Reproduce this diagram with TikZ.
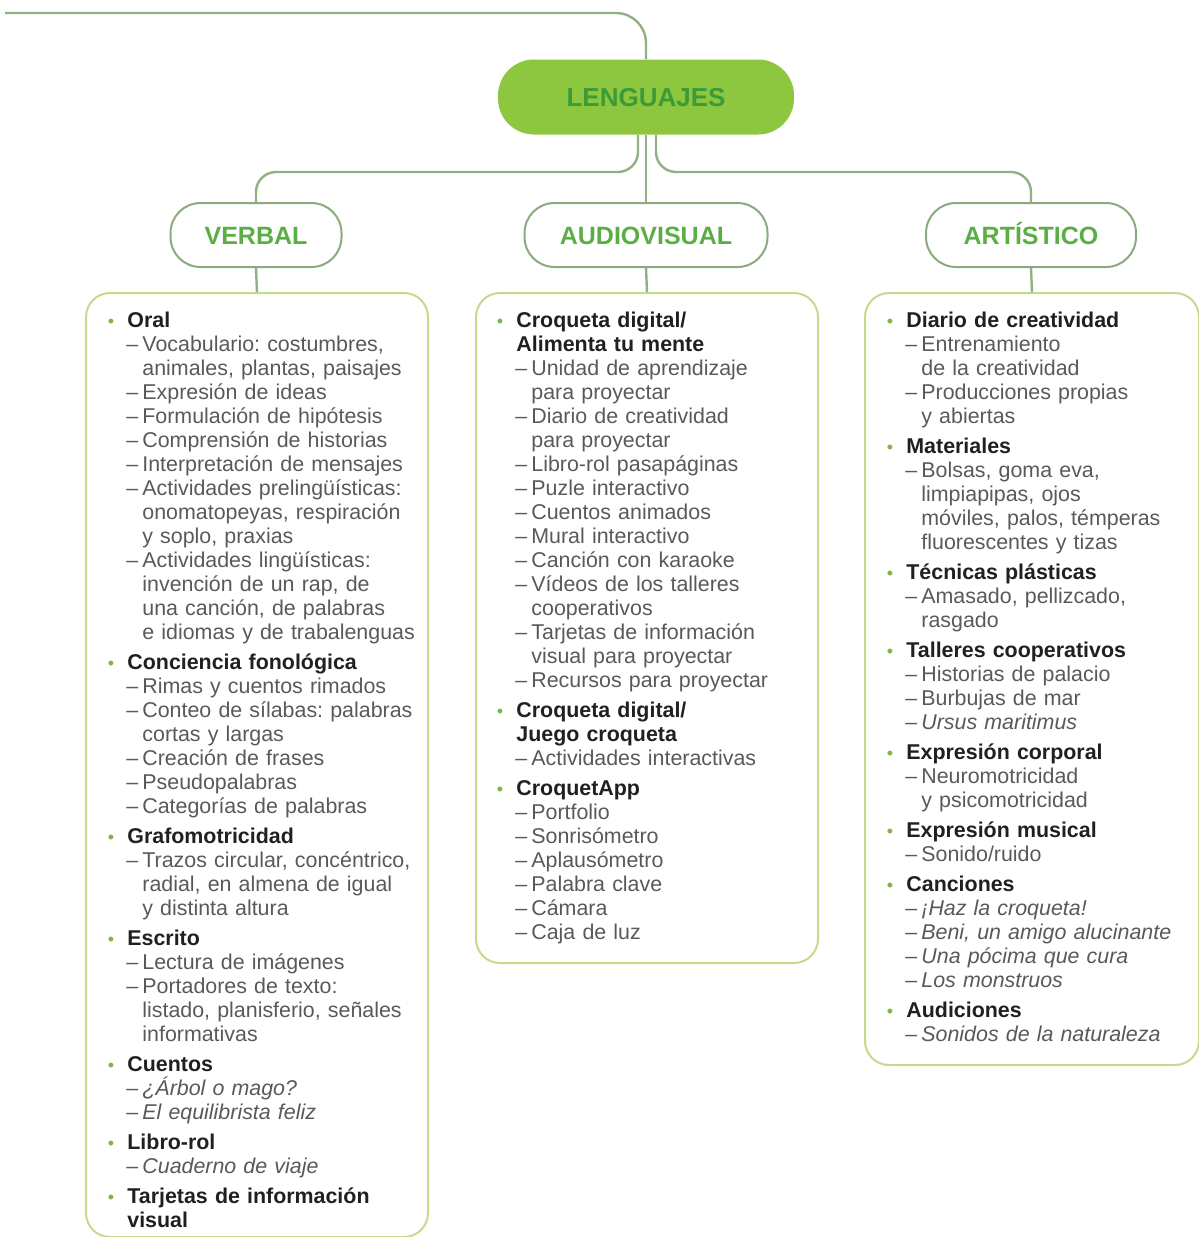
\documentclass[tikz,border=0pt]{standalone}
\usepackage{fontspec}
\setmainfont{Liberation Sans}
\usetikzlibrary{positioning}

\definecolor{hubfill}{HTML}{8DC63F}
\definecolor{hubtext}{HTML}{3C9A38}
\definecolor{catline}{HTML}{8BAA80}
\definecolor{cattext}{HTML}{5BAE44}
\definecolor{linegreen}{HTML}{92B084}
\definecolor{boxline}{HTML}{C3DC8C}
\definecolor{bulgreen}{HTML}{7DB548}
\definecolor{itemgray}{HTML}{58595B}
\definecolor{headgray}{HTML}{231F20}

% heading with green bullet, item with dash
\newcommand{\hd}[1]{\par\vspace{3pt}\noindent\hangindent=11pt\hangafter=1%
  \makebox[11pt][l]{\hspace{1.2pt}\textcolor{bulgreen}{\small\textbullet}}%
  \strut{\bfseries\color{headgray}#1}\par}
\newcommand{\itm}[1]{\noindent\hangindent=18.5pt\hangafter=1%
  \hspace*{10.5pt}\makebox[8pt][l]{–}#1\par}
\newcommand{\nl}{\newline}

\begin{document}
\begin{tikzpicture}[x=0.5pt, y=-0.5pt,
  hub/.style={rectangle, rounded corners=18pt, fill=hubfill, minimum width=148pt,
    minimum height=37.5pt, text=hubtext, text height=9.5pt, text depth=0pt,
    font=\bfseries\fontsize{13}{15}\selectfont},
  cat/.style={rectangle, rounded corners=15pt, draw=catline, line width=1pt, fill=white,
    minimum height=32pt, text=cattext, text height=9pt, text depth=0pt,
    font=\bfseries\fontsize{12.5}{14}\selectfont},
  listbox/.style={rectangle, rounded corners=12pt, draw=boxline, line width=1pt,
    anchor=north west, inner sep=0pt},
  listtext/.style={anchor=north west, inner sep=0pt, text width=170pt,
    font={\fontsize{10.7}{12.0}\selectfont\raggedright\frenchspacing\lineskiplimit=-20pt\lineskip=0pt},
    text=itemgray},
  branch/.style={draw=linegreen, line width=1.2pt, rounded corners=10pt}]
\useasboundingbox (0,0) rectangle (1199,1237);

% main nodes
\node[hub] (leng) at (646,97) {LENGUAJES};
\node[cat, minimum width=85.5pt] (verbal) at (256,235) {VERBAL};
\node[cat, minimum width=121.5pt] (audio) at (646,235) {AUDIOVISUAL};
\node[cat, minimum width=105pt] (artis) at (1031,235) {ARTÍSTICO};

\node[listbox, minimum width=171pt, minimum height=472pt] (vbox) at (85,292) {};
\node[listbox, minimum width=171pt, minimum height=335pt] (abox) at (475,292) {};
\node[listbox, minimum width=167pt, minimum height=386pt] (rbox) at (864,292) {};

% connectors
\coordinate (entry) at (5,13);
\coordinate (bar) at (0,172);
\draw[branch, rounded corners=15pt] (entry) -| (leng.north);
\draw[branch] ([xshift=-4pt]leng.south) |- (verbal.north |- bar) -- (verbal.north);
\draw[branch] ([xshift=5pt]leng.south) |- (artis.north |- bar) -- (artis.north);
\draw[branch] (leng.south) -- (audio.north);
\draw[branch] (verbal.south) -- (vbox.north);
\draw[branch] (audio.south) -- (abox.north);
\draw[branch] (artis.south) -- (rbox.north);

% lists
\node[listtext] (vtext) at (105,297) {%
\hd{Oral}
\itm{Vocabulario: costumbres,\nl animales, plantas, paisajes}
\itm{Expresión de ideas}
\itm{Formulación de hipótesis}
\itm{Comprensión de historias}
\itm{Interpretación de mensajes}
\itm{Actividades prelingüísticas:\nl onomatopeyas, respiración\nl y soplo, praxias}
\itm{Actividades lingüísticas:\nl invención de un rap, de\nl una canción, de palabras\nl e idiomas y de trabalenguas}
\hd{Conciencia fonológica}
\itm{Rimas y cuentos rimados}
\itm{Conteo de sílabas: palabras\nl cortas y largas}
\itm{Creación de frases}
\itm{Pseudopalabras}
\itm{Categorías de palabras}
\hd{Grafomotricidad}
\itm{Trazos circular, concéntrico,\nl radial, en almena de igual\nl y distinta altura}
\hd{Escrito}
\itm{Lectura de imágenes}
\itm{Portadores de texto:\nl listado, planisferio, señales\nl informativas}
\hd{Cuentos}
\itm{\textit{¿Árbol o mago?}}
\itm{\textit{El equilibrista feliz}}
\hd{Libro-rol}
\itm{\textit{Cuaderno de viaje}}
\hd{Tarjetas de información\nl visual}};

\node[listtext] (atext) at (494,297) {%
\hd{Croqueta digital/\nl Alimenta tu mente}
\itm{Unidad de aprendizaje\nl para proyectar}
\itm{Diario de creatividad\nl para proyectar}
\itm{Libro-rol pasapáginas}
\itm{Puzle interactivo}
\itm{Cuentos animados}
\itm{Mural interactivo}
\itm{Canción con karaoke}
\itm{Vídeos de los talleres\nl cooperativos}
\itm{Tarjetas de información\nl visual para proyectar}
\itm{Recursos para proyectar}
\hd{Croqueta digital/\nl Juego croqueta}
\itm{Actividades interactivas}
\hd{CroquetApp}
\itm{Portfolio}
\itm{Sonrisómetro}
\itm{Aplausómetro}
\itm{Palabra clave}
\itm{Cámara}
\itm{Caja de luz}};

\node[listtext] (rtext) at (884,297) {%
\hd{Diario de creatividad}
\itm{Entrenamiento\nl de la creatividad}
\itm{Producciones propias\nl y abiertas}
\hd{Materiales}
\itm{Bolsas, goma eva,\nl limpiapipas, ojos\nl móviles, palos, témperas\nl fluorescentes y tizas}
\hd{Técnicas plásticas}
\itm{Amasado, pellizcado,\nl rasgado}
\hd{Talleres cooperativos}
\itm{Historias de palacio}
\itm{Burbujas de mar}
\itm{\textit{Ursus maritimus}}
\hd{Expresión corporal}
\itm{Neuromotricidad\nl y psicomotricidad}
\hd{Expresión musical}
\itm{Sonido/ruido}
\hd{Canciones}
\itm{\textit{¡Haz la croqueta!}}
\itm{\textit{Beni, un amigo alucinante}}
\itm{\textit{Una pócima que cura}}
\itm{\textit{Los monstruos}}
\hd{Audiciones}
\itm{\textit{Sonidos de la naturaleza}}};
\end{tikzpicture}
\end{document}
